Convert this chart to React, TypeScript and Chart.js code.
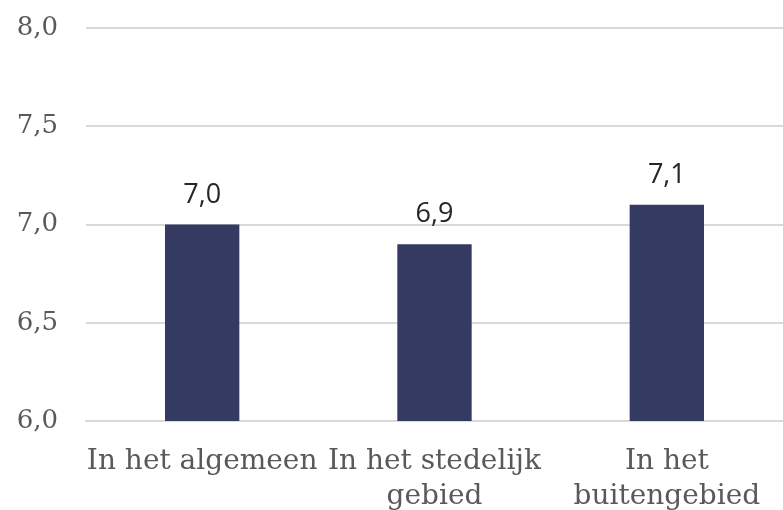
import React, { useEffect, useRef } from "react";
import { Chart, registerables } from "chart.js";

Chart.register(...registerables);

const categories: string[][] = [["In het algemeen"], ["In het stedelijk", "gebied"], ["In het", "buitengebied"]];
const values: number[] = [7.0, 6.9, 7.1];
const yMin = 6;
const yMax = 8;
const yStep = 0.5;

const fmt = (v: number) => v.toFixed(1).replace(".", ",");

const dataLabelPlugin = {
  id: "dataLabels",
  afterDatasetsDraw(chart: any) {
    const ctx = chart.ctx;
    const meta = chart.getDatasetMeta(0);
    ctx.save();
    ctx.font = "27px 'Open Sans'";
    ctx.fillStyle = "#262626";
    ctx.textAlign = "center";
    ctx.textBaseline = "alphabetic";
    meta.data.forEach((el: any, i: number) => {
      ctx.fillText(fmt(values[i]), el.x, el.y - 22);
    });
    ctx.restore();
  },
};

export default function App() {
  const ref = useRef<HTMLCanvasElement | null>(null);
  useEffect(() => {
    if (!ref.current) return;
    const chart = new Chart(ref.current, {
      type: "bar",
      data: {
        labels: categories,
        datasets: [
          {
            data: values,
            backgroundColor: "#353a63",
            borderWidth: 0,
            categoryPercentage: 1,
            barPercentage: 0.32,
          },
        ],
      },
      options: {
        animation: false,
        responsive: false,
        maintainAspectRatio: false,
        layout: { padding: { top: 28, right: 0, left: 0, bottom: 0 } },
        plugins: { legend: { display: false }, tooltip: { enabled: false } },
        scales: {
          x: {
            grid: { display: false },
            border: { display: true, color: "#d9d9d9", width: 2 },
            ticks: {
              color: "#595959",
              font: { family: "DejaVu Serif", size: 28, lineHeight: 1.22 },
              padding: 16,
              maxRotation: 0,
              autoSkip: false,
            },
            afterFit: (s: any) => {
              s.height = 89;
              s.paddingLeft = 0;
              s.paddingRight = 0;
            },
          },
          y: {
            min: yMin,
            max: yMax,
            grid: { color: "#d9d9d9", lineWidth: 2, drawTicks: false },
            border: { display: false },
            ticks: {
              stepSize: yStep,
              color: "#595959",
              font: { family: "DejaVu Serif", size: 26 },
              padding: 28,
              callback: (v: any) => fmt(Number(v)),
            },
            afterFit: (s: any) => {
              s.width = 86;
              s.paddingTop = 0;
              s.paddingBottom = 0;
            },
          },
        },
      },
      plugins: [dataLabelPlugin],
    });
    return () => chart.destroy();
  }, []);
  return (
    <div style={{ position: "fixed", left: 0, top: 0, width: 783, height: 510, background: "#fff" }}>
      <canvas ref={ref} width={783} height={510} />
    </div>
  );
}
